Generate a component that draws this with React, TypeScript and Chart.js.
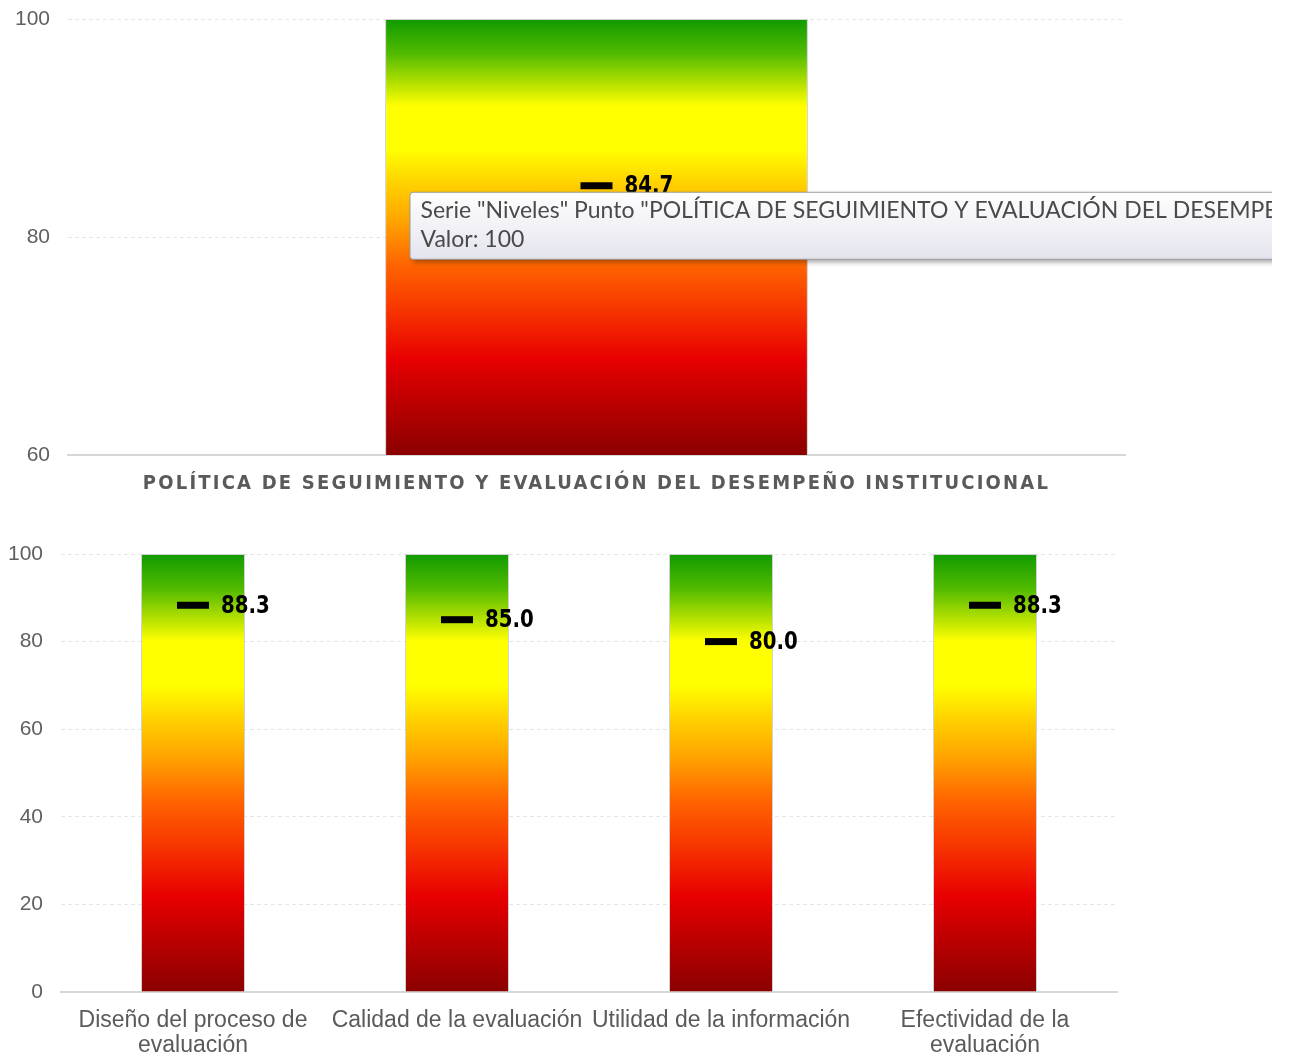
import { useEffect, useRef } from 'react';
import Chart from 'chart.js/auto';

// Overall policy score
const POLICY_CATEGORY = ['POLÍTICA DE SEGUIMIENTO Y EVALUACIÓN DEL DESEMPEÑO INSTITUCIONAL'];
const POLICY_LEVEL = [100];
const POLICY_SCORE = [84.7];
const POLICY_TICKS = [60, 80, 100];

// Component scores
const COMPONENT_CATEGORIES = [
  ['Diseño del proceso de', 'evaluación'],
  'Calidad de la evaluación',
  'Utilidad de la información',
  ['Efectividad de la', 'evaluación'],
];
const COMPONENT_LEVEL = [100, 100, 100, 100];
const COMPONENT_SCORE = [88.3, 85.0, 80.0, 88.3];
const COMPONENT_TICKS = [0, 20, 40, 60, 80, 100];

const LEVEL_SERIES = 'Niveles';
const SCORE_SERIES = 'Puntaje';

// green -> yellow -> orange -> red -> dark red, top to bottom
const LEVEL_STOPS: [number, string][] = [
  [0, '#109a00'],
  [0.08, '#52bb00'],
  [0.14, '#a9dc00'],
  [0.2, '#ffff00'],
  [0.3, '#ffff00'],
  [0.38, '#ffd000'],
  [0.47, '#ffa000'],
  [0.56, '#ff6600'],
  [0.66, '#f83800'],
  [0.78, '#e80000'],
  [0.89, '#b80000'],
  [1, '#8b0000'],
];

const SANS = '"Liberation Sans", Arial, sans-serif';
const NARROW = '"Liberation Sans Narrow", "DejaVu Sans Condensed", sans-serif';

function levelFill(ctx: any) {
  const chart = ctx.chart;
  const area = chart.chartArea;
  if (!area) return '#ffff00';
  const g = chart.ctx.createLinearGradient(0, area.top, 0, area.bottom);
  LEVEL_STOPS.forEach(([o, c]) => g.addColorStop(o, c));
  return g;
}

// score value written to the right of each marker
const scoreLabels = {
  id: 'scoreLabels',
  afterDatasetsDraw(chart: any) {
    const meta = chart.getDatasetMeta(1);
    const values = chart.data.datasets[1].data;
    const ctx = chart.ctx;
    meta.data.forEach((pt: any, i: number) => {
      ctx.save();
      ctx.translate(pt.x + 28, pt.y + 1);
      ctx.scale(1, 1.12);
      ctx.font = `bold 22px ${NARROW}`;
      ctx.fillStyle = '#000000';
      ctx.textBaseline = 'middle';
      ctx.textAlign = 'left';
      ctx.fillText(Number(values[i]).toFixed(1), 0, 0);
      ctx.restore();
    });
  },
};

// spaced-out category caption under the single bar
const spacedCaption = {
  id: 'spacedCaption',
  beforeDraw(chart: any) {
    const sc = chart.scales.x;
    if (!sc || sc.__spaced) return;
    const orig = sc.drawLabels;
    sc.drawLabels = function (area: any) {
      const c = this.ctx;
      c.save();
      c.letterSpacing = '2.2px';
      orig.call(this, area);
      c.restore();
    };
    sc.__spaced = true;
  },
};

// hover box shown over the policy bar
const hoverBox = {
  id: 'hoverBox',
  afterDraw(chart: any) {
    const bar = chart.getDatasetMeta(0).data[0];
    const pt = chart.getDatasetMeta(1).data[0];
    if (!bar || !pt) return;
    const ds = chart.data.datasets[0];
    const line1 = `Serie "${ds.label}" Punto "${chart.data.labels[0]}"`;
    const line2 = `Valor: ${ds.data[0]}`;
    const ctx = chart.ctx;
    const x = bar.x - 187;
    const y = pt.y + 6;
    const w = 1100;
    const h = 67;
    ctx.save();
    ctx.shadowColor = 'rgba(0,0,0,0.35)';
    ctx.shadowBlur = 5;
    ctx.shadowOffsetX = 3;
    ctx.shadowOffsetY = 3;
    const g = ctx.createLinearGradient(0, y, 0, y + h);
    g.addColorStop(0, '#ffffff');
    g.addColorStop(1, '#e4e4ee');
    ctx.fillStyle = g;
    ctx.beginPath();
    ctx.roundRect(x + 0.5, y + 0.5, w, h, 3);
    ctx.fill();
    ctx.shadowColor = 'transparent';
    ctx.strokeStyle = '#9c9c9c';
    ctx.lineWidth = 1;
    ctx.stroke();
    ctx.fillStyle = '#4a4a4a';
    ctx.font = `23px Lato, ${SANS}`;
    ctx.textBaseline = 'middle';
    ctx.textAlign = 'left';
    ctx.fillText(line1, x + 11, y + 19);
    ctx.fillText(line2, x + 11, y + 48);
    ctx.restore();
  },
};

function buildOptions(ticks: number[], yWidth: number, xHeight: number, pad: any, xFont: any, xPad: number) {
  return {
    responsive: false,
    animation: false as const,
    layout: { padding: pad },
    plugins: { legend: { display: false }, tooltip: { enabled: false } },
    scales: {
      x: {
        grid: { display: false, drawTicks: false },
        border: { display: true, color: '#d6d6d6', width: 2 },
        ticks: {
          color: '#5a5a5a',
          font: xFont,
          padding: xPad,
          maxRotation: 0,
          autoSkip: false,
        },
        afterFit(scale: any) {
          scale.height = xHeight;
        },
      },
      y: {
        min: ticks[0],
        max: ticks[ticks.length - 1],
        afterBuildTicks(scale: any) {
          scale.ticks = ticks.map((v) => ({ value: v }));
        },
        grid: { color: '#e6e6e6', drawTicks: false },
        border: { display: false, dash: [4, 3] },
        ticks: {
          color: '#606060',
          font: { family: SANS, size: 21 },
          padding: 18,
        },
        afterFit(scale: any) {
          scale.width = yWidth;
          scale.paddingTop = 0;
          scale.paddingBottom = 0;
        },
      },
    },
  };
}

function LevelChart(props: {
  labels: any[];
  level: number[];
  score: number[];
  ticks: number[];
  width: number;
  height: number;
  top: number;
  yWidth: number;
  xHeight: number;
  pad: any;
  barPct: number;
  xFont: any;
  xPad: number;
  extra: any[];
}) {
  const ref = useRef<HTMLCanvasElement | null>(null);
  useEffect(() => {
    if (!ref.current) return;
    const chart = new Chart(ref.current, {
      data: {
        labels: props.labels,
        datasets: [
          {
            type: 'bar',
            label: LEVEL_SERIES,
            data: props.level,
            backgroundColor: levelFill,
            borderColor: 'rgba(205,205,205,0.9)',
            borderWidth: 1,
            barPercentage: props.barPct,
            categoryPercentage: 1,
            order: 1,
          } as any,
          {
            type: 'line',
            label: SCORE_SERIES,
            data: props.score,
            showLine: false,
            pointStyle: 'line',
            pointRadius: 16,
            pointHoverRadius: 16,
            borderWidth: 7,
            borderColor: '#000000',
            backgroundColor: '#000000',
            order: 0,
          } as any,
        ],
      },
      options: buildOptions(props.ticks, props.yWidth, props.xHeight, props.pad, props.xFont, props.xPad) as any,
      plugins: [scoreLabels, ...props.extra],
    });
    return () => chart.destroy();
  }, []);
  return (
    <canvas
      ref={ref}
      width={props.width}
      height={props.height}
      style={{ position: 'absolute', left: 0, top: props.top, width: props.width, height: props.height }}
    />
  );
}

export default function App() {
  return (
    <div style={{ position: 'absolute', left: 0, top: 0, width: 1289, height: 1056, background: '#ffffff', overflow: 'hidden' }}>
      <LevelChart
        labels={POLICY_CATEGORY}
        level={POLICY_LEVEL}
        score={POLICY_SCORE}
        ticks={POLICY_TICKS}
        width={1272}
        height={504}
        top={-4}
        yWidth={68}
        xHeight={45}
        pad={{ top: 18, right: 147, left: 0, bottom: 0 }}
        barPct={0.4}
        xFont={{ family: NARROW, size: 20, weight: 'bold' }}
        xPad={17}
        extra={[spacedCaption, hoverBox]}
      />
      <LevelChart
        labels={COMPONENT_CATEGORIES}
        level={COMPONENT_LEVEL}
        score={COMPONENT_SCORE}
        ticks={COMPONENT_TICKS}
        width={1289}
        height={556}
        top={500}
        yWidth={61}
        xHeight={64}
        pad={{ top: 54, right: 172, left: 0, bottom: 0 }}
        barPct={0.394}
        xFont={{ family: SANS, size: 23, lineHeight: 1.09 }}
        xPad={16}
        extra={[]}
      />
    </div>
  );
}
